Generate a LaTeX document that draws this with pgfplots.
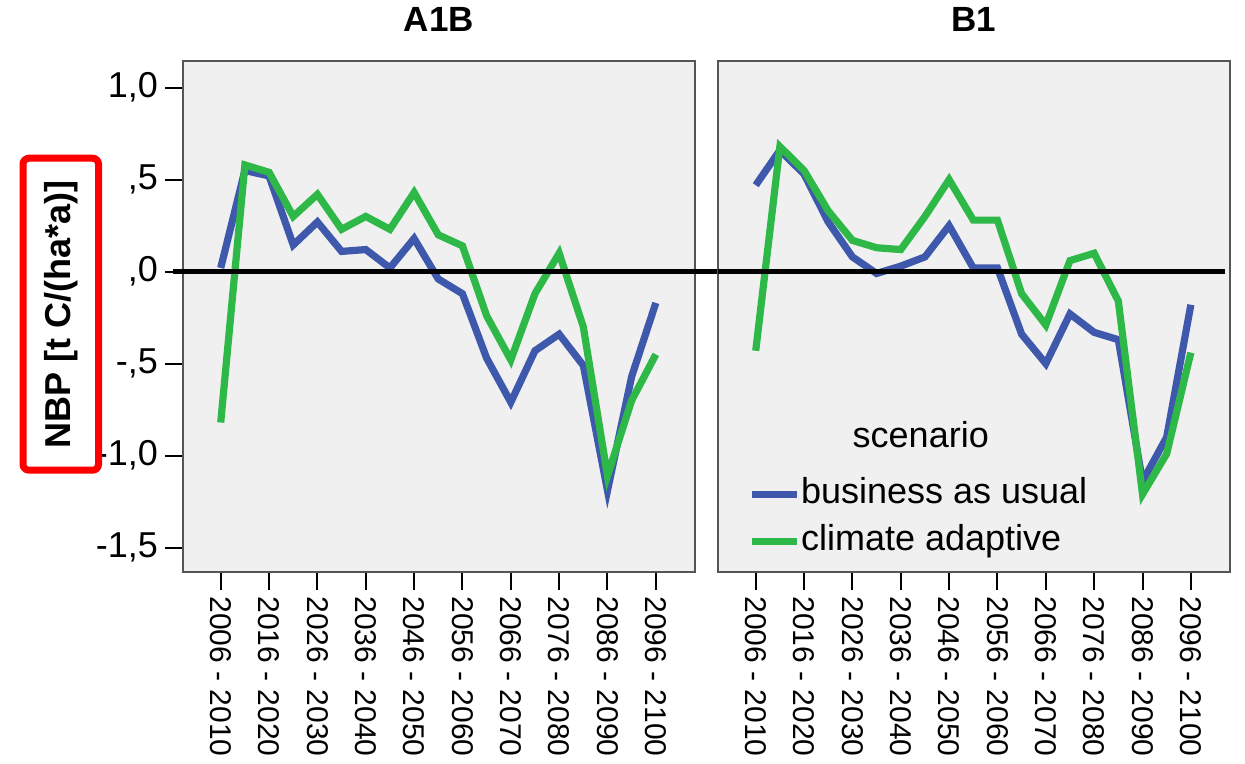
\documentclass[border=0pt]{standalone}
\usepackage{pgfplots}
\usepackage{pgfplotstable}
\pgfplotsset{compat=1.18}
\usepackage{fontspec}
\setmainfont{Liberation Sans}
\definecolor{bau}{HTML}{3E58AC}
\definecolor{cad}{HTML}{2EB848}
\definecolor{bg}{HTML}{F0F0F0}
\definecolor{framec}{HTML}{555555}

\pgfplotstableread{
i bau cad
0 0.02 -0.82
1 0.55 0.58
2 0.52 0.54
3 0.145 0.30
4 0.27 0.42
5 0.11 0.23
6 0.12 0.30
7 0.02 0.23
8 0.18 0.43
9 -0.04 0.20
10 -0.12 0.14
11 -0.47 -0.24
12 -0.71 -0.48
13 -0.43 -0.12
14 -0.34 0.10
15 -0.51 -0.30
16 -1.19 -1.11
17 -0.57 -0.70
18 -0.17 -0.45
}\dataA

\pgfplotstableread{
i bau cad
0 0.47 -0.43
1 0.66 0.68
2 0.53 0.55
3 0.27 0.33
4 0.08 0.17
5 -0.01 0.13
6 0.03 0.12
7 0.08 0.30
8 0.25 0.50
9 0.02 0.28
10 0.02 0.28
11 -0.34 -0.12
12 -0.50 -0.29
13 -0.23 0.06
14 -0.33 0.10
15 -0.37 -0.16
16 -1.14 -1.21
17 -0.90 -0.99
18 -0.18 -0.44
}\dataB

\pgfplotsset{panel/.style={
  scale only axis, width=256pt, height=255.25pt,
  xmin=-1.56, xmax=19.62, ymin=-1.63, ymax=1.145,
  axis background/.style={fill=bg},
  axis line style={draw=framec, line width=1pt},
  xtick={0,2,...,18},
  xticklabels={2006 - 2010, 2016 - 2020, 2026 - 2030, 2036 - 2040, 2046 - 2050, 2056 - 2060, 2066 - 2070, 2076 - 2080, 2086 - 2090, 2096 - 2100},
  xticklabel style={rotate=-90, anchor=west, font=\fontsize{15}{15}\selectfont},
  tick align=outside, major tick length=9pt,
  tick style={black, line width=1pt},
  xtick pos=bottom, ytick pos=left,
  title style={at={(axis description cs:0.5,1)}, anchor=base, yshift=9pt, font=\bfseries\fontsize{17.5}{17.5}\selectfont},
  clip=false,
  every axis plot/.append style={line width=3.6pt},
}}

\begin{document}
\begin{tikzpicture}
\path (-91.5pt,-94.75pt) rectangle (531pt,285.75pt);
\begin{axis}[panel, at={(0pt,0pt)}, anchor=south west,
  title={A1B},
  ytick={-1.5,-1,-0.5,0,0.5,1},
  yticklabels={{\mbox{-1,5}},{\mbox{-1,0}},{\mbox{-,5}},{\mbox{,0}},{\mbox{,5}},{\mbox{1,0}}},
  yticklabel style={font=\fontsize{18}{18}\selectfont},
  ylabel={NBP [t C/(ha*a)]},
  ylabel style={at={(axis description cs:-0.2387,0.504)}, anchor=center,
    draw=red, line width=3.5pt, rounded corners=3pt, inner xsep=11pt, inner ysep=10.5pt,
    font=\bfseries\fontsize{18}{18}\selectfont},
]
\addplot[bau] table[x=i, y=bau] {\dataA};
\addplot[cad] table[x=i, y=cad] {\dataA};
\draw[black, line width=2.5pt] (axis cs:-1.97,0) -- (axis cs:20.57,0);
\end{axis}
\begin{axis}[panel, at={(267.5pt,0pt)}, anchor=south west,
  title={B1},
  ymajorticks=false,
  legend style={draw=none, fill=none, at={(axis description cs:0.0594,0.185)}, anchor=north west,
    font=\fontsize{18}{18}\selectfont, inner sep=0pt, row sep=6.5pt,
    nodes={inner sep=0pt, text height=13pt, text depth=4pt}},
  legend cell align=left,
  legend image code/.code={\draw[#1] (0pt,0pt) -- (22.5pt,0pt);},
  /tikz/every even column/.append style={column sep=3.5pt},
]
\addplot[bau] table[x=i, y=bau] {\dataB};
\addplot[cad] table[x=i, y=cad] {\dataB};
\draw[black, line width=2.5pt] (axis cs:-1.56,0) -- (axis cs:19.42,0);
\node[anchor=base, font=\fontsize{18}{18}\selectfont] at (axis description cs:0.396,0.242) {scenario};
\legend{business as usual, climate adaptive}
\end{axis}
\end{tikzpicture}
\end{document}
